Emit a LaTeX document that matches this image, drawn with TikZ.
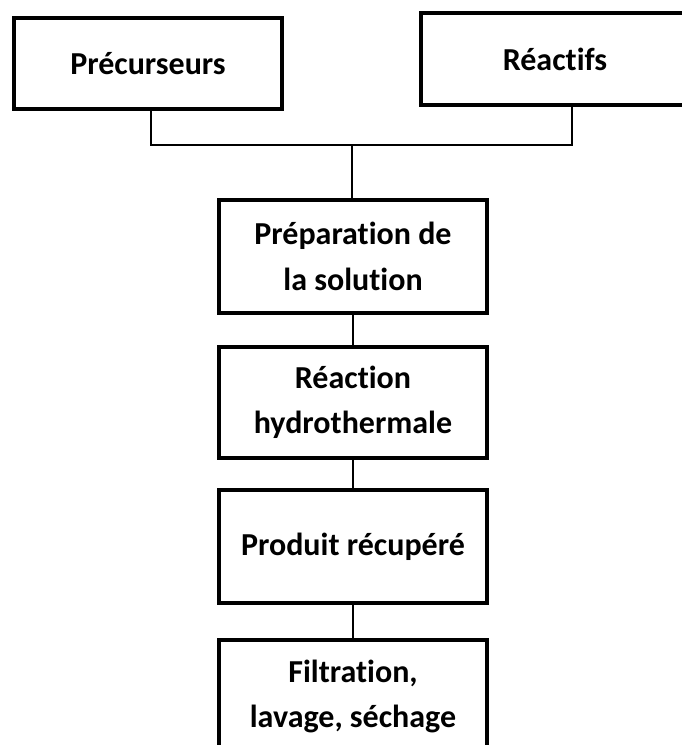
\documentclass[tikz,border=0pt]{standalone}
\usepackage{fontspec}
\setmainfont[Ligatures=NoCommon]{Carlito}
\usepackage{tikz}

\begin{document}
\begin{tikzpicture}[x=0.75pt,y=-0.75pt,
  etape/.style={draw,line width=3pt,minimum width=201pt,minimum height=#1,
    inner sep=0pt,align=center,font=\bfseries\fontsize{24}{34}\selectfont},
  lien/.style={line width=1.1pt}]
\useasboundingbox (0,0) rectangle (681,745);
\node [etape=68.25pt] (a) at (148,63.5) {Précurseurs};
\node [etape=69pt] (b) at (555,59) {Réactifs};
\node [etape=84.75pt] (c) at (353,256.5) {Préparation de\\la solution};
\node [etape=83.25pt] (d) at (353,402.5) {Réaction\\hydrothermale};
\node [etape=84.75pt] (e) at (353,546.5) {Produit récupéré};
\node [etape=84.75pt] (f) at (353,696.5) {Filtration,\\lavage, séchage};
\coordinate (j) at (352,145);
\draw [lien] ([xshift=2.25pt]a.south) |- (j) -| ([xshift=12.75pt]b.south);
\draw [lien] (j) -- (j |- c.north);
\draw [lien] (c) -- (d);
\draw [lien] (d) -- (e);
\draw [lien] (e) -- (f);
\end{tikzpicture}
\end{document}
